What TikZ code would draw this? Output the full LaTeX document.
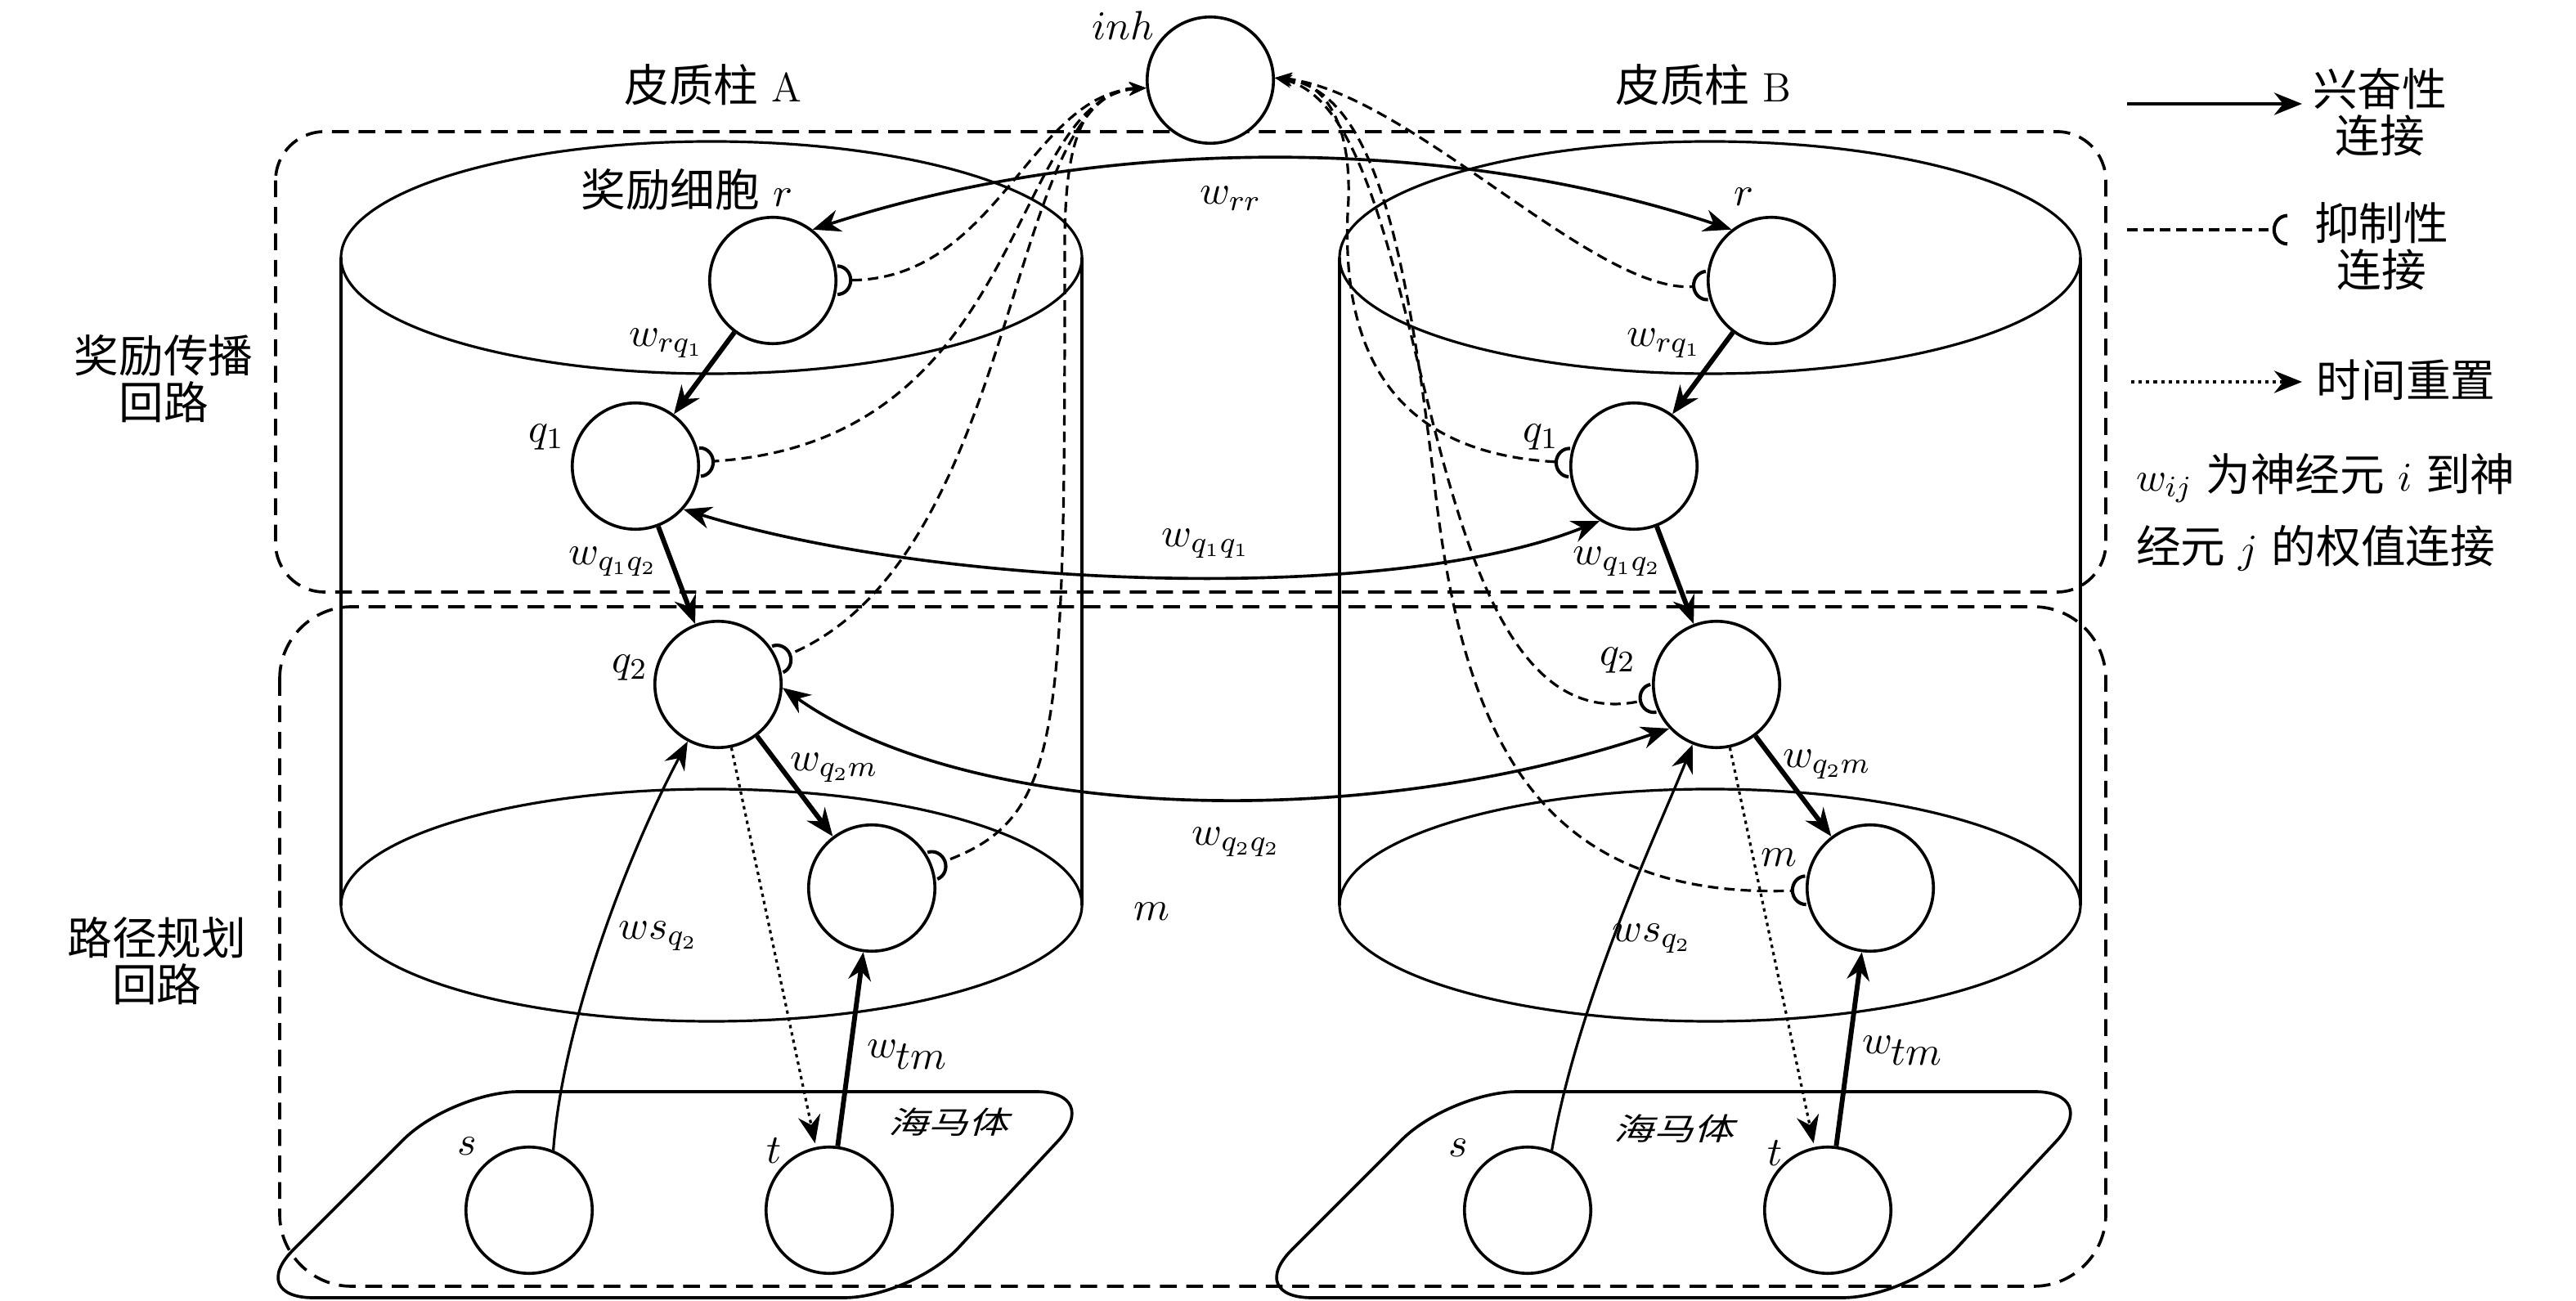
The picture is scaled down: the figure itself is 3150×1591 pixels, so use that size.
\documentclass[tikz,border=0pt]{standalone}
\usepackage{fontspec}
\newfontfamily\cjkfont{Noto Sans CJK SC}[Scale=1.09]
\newfontfamily\cjkslant{Noto Sans CJK SC}[Scale=0.75,FakeSlant=0.3,FakeStretch=1.3]
\newcommand{\zh}[1]{{\cjkfont #1}}
\usetikzlibrary{positioning}
\usetikzlibrary{arrows.meta}
\tikzset{cell node/.style={circle,draw,line width=0.8pt,fill=white,minimum size=1.19cm,inner sep=0pt},
  exc line/.style={->,line width=1.3pt},
  long line/.style={<->,line width=0.8pt},
  ws line/.style={->,line width=0.7pt},
  reset line/.style={->,line width=0.7pt,dash pattern=on 0.9pt off 1.1pt},
  inh line/.style={line width=0.7pt,dash pattern=on 2.8pt off 1.6pt,-{Arc Barb[reversed,length=4pt,width=8.5pt,line width=0.9pt]}},
  from inh/.style={inh line,{Stealth[length=4.5pt,width=3.5pt]}-{Arc Barb[reversed,length=4pt,width=8.5pt,line width=0.9pt]}},
  region box/.style={draw,line width=0.8pt,dash pattern=on 4.5pt off 2.6pt},
  col line/.style={line width=0.7pt},
  hippo box/.style={line width=0.8pt,rounded corners=0.64cm},}

\begin{document}
\begin{tikzpicture}[x=0.0077cm,y=-0.0077cm,>={Stealth[length=7.5pt,width=6pt]},font=\fontsize{11pt}{12.5pt}\selectfont]
	\useasboundingbox (0,0) rectangle (3150,1591);

	% regions
	\draw[region box,rounded corners=0.46cm] (337,161) rectangle (2575,724);
	\draw[region box,rounded corners=0.68cm] (342,742) rectangle (2575,1573);

	% cortical columns
	\draw[col line] (870,315) ellipse [x radius=453,y radius=142];
	\draw[col line] (870,1107) ellipse [x radius=453,y radius=142];
	\draw[col line] (417,315) -- (417,1107) (1323,315) -- (1323,1107);
	\draw[col line] (2091,315) ellipse [x radius=453,y radius=142];
	\draw[col line] (2091,1107) ellipse [x radius=453,y radius=142];
	\draw[col line] (1638,315) -- (1638,1107) (2544,315) -- (2544,1107);

	% hippocampus
	\draw[hippo box] (552,1335) -- (1350,1335) -- (1115,1587) -- (300,1587) -- cycle;
	\draw[hippo box] (1773,1335) -- (2571,1335) -- (2336,1587) -- (1521,1587) -- cycle;

	\node[cell node] (inh) at (1480,98) {};
	\node[cell node] (rA) at (945,343) {};
	\node[cell node] (q1A) at (777,570) {};
	\node[cell node] (q2A) at (878,837) {};
	\node[cell node] (mA) at (1066,1086) {};
	\node[cell node] (sA) at (647,1480) {};
	\node[cell node] (tA) at (1014,1480) {};
	\node[cell node] (rB) at (2166,343) {};
	\node[cell node] (q1B) at (1998,570) {};
	\node[cell node] (q2B) at (2099,837) {};
	\node[cell node] (mB) at (2287,1086) {};
	\node[cell node] (sB) at (1868,1480) {};
	\node[cell node] (tB) at (2235,1480) {};

	\path[draw]
	(rA) edge [exc line] (q1A)
	(q1A) edge [exc line] (q2A)
	(q2A) edge [exc line] (mA)
	(tA) edge [exc line] (mA)
	(q2A) edge [reset line,shorten >=1pt] (tA)
	(rB) edge [exc line] (q1B)
	(q1B) edge [exc line] (q2B)
	(q2B) edge [exc line] (mB)
	(tB) edge [exc line] (mB)
	(q2B) edge [reset line,shorten >=1pt] (tB);

	\draw[ws line] (sA.68) .. controls (688,1250) and (770,1040) .. (q2A);
	\draw[ws line] (sB.68) .. controls (1930,1220) and (2030,1010) .. (q2B);
	\draw[long line] (rA.52) .. controls (1350,165) and (1770,165) .. (rB.128);
	\draw[long line] (q1A.-42) .. controls (1150,720) and (1700,740) .. (q1B.-122);
	\draw[long line] (q2A.-3) .. controls (1180,1000) and (1650,1023) .. (q2B.-137);

	% inhibition
	\draw[from inh] (inh.187) .. controls (1260,115) and (1220,342) .. (rA);
	\draw[from inh] (inh.187) .. controls (1230,120) and (1260,540) .. (q1A);
	\draw[from inh] (inh.187) .. controls (1230,110) and (1250,680) .. (q2A);
	\draw[from inh] (inh.187) .. controls (1320,112) and (1302,180) .. (1302,300) .. controls (1302,900) and (1300,1000) .. (mA);
	\draw[from inh] (inh.2) .. controls (1720,110) and (1950,360) .. (rB);
	\draw[from inh] (inh.2) .. controls (1630,100) and (1655,170) .. (1648,260) .. controls (1640,450) and (1720,555) .. (q1B);
	\draw[from inh] (inh.2) .. controls (1760,140) and (1720,920) .. (q2B);
	\draw[from inh] (inh.2) .. controls (1680,110) and (1720,300) .. (1755,600) .. controls (1790,900) and (1880,1100) .. (mB);

	% labels
	\node (colA) at (872,104) {\zh{皮质柱} A};
	\node (colB) at (2083,104) {\zh{皮质柱} B};
	\node (labinh) at (1373,31) {$inh$};
	\node (labrA) at (840,232) {\zh{奖励细胞} $r$};
	\node (labrB) at (2132,241) {$r$};
	\node (labq1A) at (668,535) {$q_1$};
	\node (labq1B) at (1884,535) {$q_1$};
	\node (labq2A) at (770,817) {$q_2$};
	\node (labq2B) at (1978,808) {$q_2$};
	\node (labmA) at (1408,1115) {$m$};
	\node (labmB) at (2175,1049) {$m$};
	\node (labsA) at (571,1402) {$s$};
	\node (labsB) at (1783,1404) {$s$};
	\node (labtA) at (947,1407) {$t$};
	\node (labtB) at (2170,1410) {$t$};
	\node (hipA) at (1160,1372) {\cjkslant 海马体};
	\node (hipB) at (2047,1380) {\cjkslant 海马体};
	\node (wrqA) at (815,420) {$w_{rq_1}$};
	\node (wrqB) at (2035,420) {$w_{rq_1}$};
	\node (wqqA) at (750,687) {$w_{q_1q_2}$};
	\node (wqqB) at (1978,687) {$w_{q_1q_2}$};
	\node (wqmA) at (1020,939) {$w_{q_2m}$};
	\node (wqmB) at (2234,935) {$w_{q_2m}$};
	\node (wsA) at (805,1145) {$ws_{q_2}$};
	\node (wsB) at (2020,1148) {$ws_{q_2}$};
	\node (wtmA) at (1110,1290) {$w_{\textstyle tm}$};
	\node (wtmB) at (2327,1285) {$w_{\textstyle tm}$};
	\node (wrr) at (1505,243) {$w_{rr}$};
	\node (wq1q1) at (1475,665) {$w_{q_1q_1}$};
	\node (wq2q2) at (1512,1030) {$w_{q_2q_2}$};
	\node[align=center] (reward) at (200,463) {\zh{奖励传播}\\\zh{回路}};
	\node[align=center] (plan) at (192,1175) {\zh{路径规划}\\\zh{回路}};

	% legend
	\coordinate (ex1) at (2601,127);
	\coordinate (ex2) at (2815,127);
	\draw[->,line width=0.8pt] (ex1) -- (ex2);
	\node[align=center] (excl) at (2910,137) {\zh{兴奋性}\\\zh{连接}};
	\coordinate (in1) at (2601,281);
	\coordinate (in2) at (2797,281);
	\draw[inh line] (in1) -- (in2);
	\node[align=center] (inhl) at (2912,301) {\zh{抑制性}\\\zh{连接}};
	\coordinate (re1) at (2606,467);
	\coordinate (re2) at (2815,467);
	\draw[reset line] (re1) -- (re2);
	\node (resetl) at (2942,465) {\zh{时间重置}};
	\node[align=left,anchor=west] (wij) at (2596,626) {$w_{ij}$ \zh{为神经元} $i$ \zh{到神}\\[5pt]\zh{经元} $j$ \zh{的权值连接}};
\end{tikzpicture}
\end{document}
